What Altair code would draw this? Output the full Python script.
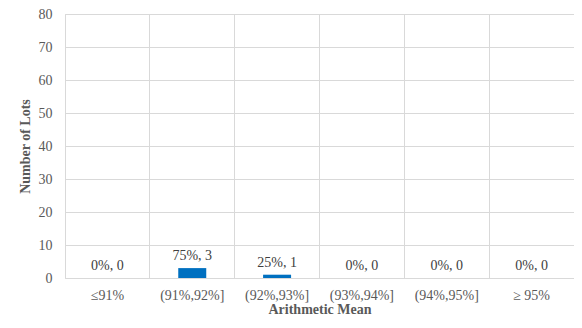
import altair as alt
import pandas as pd

categories = ["≤91%", "(91%,92%]", "(92%,93%]", "(93%,94%]", "(94%,95%]", "≥ 95%"]
counts = [0, 3, 1, 0, 0, 0]
percents = [0, 75, 25, 0, 0, 0]
y_ticks = [0, 10, 20, 30, 40, 50, 60, 70, 80]

df = pd.DataFrame({
    "cat": categories,
    "count": counts,
    "label": [f"{p}%, {c}" for p, c in zip(percents, counts)],
})

FONT = "Liberation Serif"
GRID = "#d9d9d9"
TXT = "#595959"

common = dict(labelFont=FONT, labelFontSize=14, labelColor=TXT,
              titleFont=FONT, titleFontSize=14, titleFontWeight="bold", titleColor=TXT,
              gridColor=GRID, gridWidth=1, ticks=False, domain=False, grid=True)

x = alt.X("cat:N", sort=categories,
          scale=alt.Scale(paddingInner=0, paddingOuter=0),
          axis=alt.Axis(title="Arithmetic Mean", labelAngle=0, bandPosition=0,
                        labelPadding=10, titlePadding=0, **common))
y = alt.Y("count:Q",
          scale=alt.Scale(domain=[0, 80], nice=False),
          axis=alt.Axis(title="Number of Lots", values=y_ticks, labelOverlap=False,
                        labelPadding=13, titlePadding=6, **common))

bars = alt.Chart(df).mark_bar(size=28, color="#0070C0").encode(x=x, y=y)
labels = alt.Chart(df).mark_text(baseline="bottom", dy=-5, color="#404040",
                                 font=FONT, fontSize=14).encode(
    x=x, y=y, text="label:N")

chart = (bars + labels).properties(
    width=509, height=264,
    autosize=alt.AutoSizeParams(type="none"),
    padding={"left": 57, "top": 6, "right": 0, "bottom": 38},
).configure_view(stroke=GRID, strokeWidth=1
).configure_axis(
    labelFont=FONT, titleFont=FONT,
).configure_text(font=FONT, fontSize=14)

chart.save("out.html", embed_options={"renderer": "svg", "actions": False})
